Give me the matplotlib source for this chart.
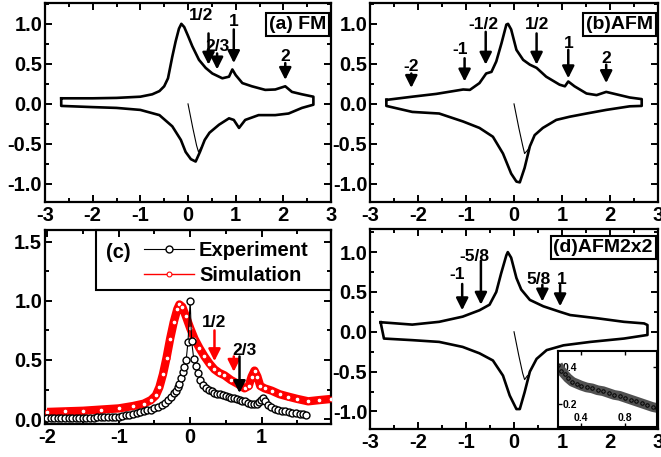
import matplotlib
matplotlib.use('Agg')
import matplotlib.pyplot as plt
from matplotlib.patches import Rectangle
from matplotlib.font_manager import FontProperties
from matplotlib.ticker import MultipleLocator, FormatStrFormatter

plt.rcParams['font.family'] = ['Liberation Sans', 'DejaVu Sans']
plt.rcParams['font.weight'] = 'bold'
plt.rcParams['axes.unicode_minus'] = False

# (a) FM spectrum: upper and lower branch of the loop
a_up_x = [-2.66, -2.3, -2.0, -1.5, -1.0, -0.75, -0.6, -0.5, -0.42, -0.33, -0.26, -0.19, -0.14,
          -0.08, 0.0, 0.09, 0.23, 0.37, 0.51, 0.72, 0.86, 0.93, 1.0, 1.14, 1.34, 1.62, 1.83,
          2.04, 2.18, 2.39, 2.63]
a_up_y = [0.07, 0.07, 0.07, 0.075, 0.09, 0.12, 0.16, 0.22, 0.32, 0.59, 0.78, 0.94, 1.0,
          0.96, 0.85, 0.72, 0.55, 0.45, 0.38, 0.32, 0.34, 0.43, 0.36, 0.26, 0.22, 0.175, 0.18,
          0.22, 0.15, 0.12, 0.09]
a_lo_x = [-2.66, -2.0, -1.5, -1.0, -0.6, -0.33, -0.15, -0.05, 0.06, 0.16, 0.25, 0.35, 0.45,
          0.65, 0.86, 0.96, 1.07, 1.2, 1.48, 1.83, 2.11, 2.39, 2.63]
a_lo_y = [-0.025, -0.04, -0.05, -0.075, -0.14, -0.28, -0.45, -0.6, -0.69, -0.72, -0.6,
          -0.45, -0.36, -0.26, -0.18, -0.2, -0.3, -0.2, -0.14, -0.14, -0.12, -0.05, -0.01]
a_thin_x = [0.0, 0.1, 0.18, 0.22, 0.27]
a_thin_y = [0.0, -0.3, -0.52, -0.6, -0.55]

# (b) AFM spectrum
b_up_x = [-2.66, -2.12, -1.62, -1.06, -0.92, -0.72, -0.58, -0.47, -0.37, -0.26, -0.16, -0.125,
          -0.06, 0.05, 0.19, 0.33, 0.47, 0.67, 0.95, 1.06, 1.13, 1.26, 1.51, 1.72, 1.92, 2.2,
          2.41, 2.66]
b_up_y = [0.05, 0.09, 0.125, 0.18, 0.175, 0.26, 0.38, 0.4, 0.53, 0.76, 0.99, 1.0, 0.93, 0.675,
          0.55, 0.49, 0.45, 0.34, 0.24, 0.22, 0.28, 0.22, 0.13, 0.11, 0.15, 0.11, 0.08, 0.06]
b_lo_x = [-2.66, -2.12, -1.56, -1.06, -0.72, -0.44, -0.23, -0.06, 0.05, 0.12, 0.22, 0.33,
          0.43, 0.6, 0.88, 1.16, 1.51, 1.92, 2.41, 2.66]
b_lo_y = [-0.025, -0.1, -0.12, -0.22, -0.3, -0.41, -0.62, -0.87, -0.97, -0.98, -0.8, -0.53,
          -0.39, -0.3, -0.2, -0.16, -0.12, -0.075, -0.03, -0.025]
b_thin_x = [0.0, 0.1, 0.18, 0.22, 0.28, 0.33]
b_thin_y = [0.0, -0.3, -0.52, -0.62, -0.58, -0.53]

# (c) experiment vs simulation
exp_x = [-2.0, -1.95, -1.9, -1.85, -1.8, -1.75, -1.7, -1.65, -1.6, -1.55, -1.5, -1.45, -1.4,
         -1.35, -1.3, -1.25, -1.2, -1.15, -1.1, -1.05, -1.0, -0.95, -0.9, -0.85, -0.8, -0.75,
         -0.7, -0.65, -0.6, -0.55, -0.5, -0.45, -0.4, -0.35, -0.31, -0.27, -0.23, -0.2, -0.17,
         -0.15, -0.126, -0.1, -0.08, -0.056, -0.03, 0.0, 0.02, 0.05, 0.075, 0.11, 0.14, 0.18,
         0.22, 0.26, 0.3, 0.34, 0.38, 0.42, 0.46, 0.5, 0.54, 0.57, 0.61, 0.65, 0.69, 0.73, 0.77,
         0.81, 0.85, 0.89, 0.93, 0.96, 0.99, 1.02, 1.05, 1.09, 1.13, 1.18, 1.23, 1.28, 1.33,
         1.38, 1.43, 1.48, 1.53, 1.58, 1.62]
exp_y = [0.005, 0.005, 0.006, 0.006, 0.007, 0.007, 0.008, 0.008, 0.009, 0.01, 0.01, 0.011,
         0.012, 0.013, 0.014, 0.015, 0.016, 0.017, 0.018, 0.019, 0.02, 0.025, 0.03, 0.035,
         0.045, 0.05, 0.06, 0.07, 0.075, 0.08, 0.09, 0.1, 0.12, 0.14, 0.16, 0.19, 0.22, 0.24,
         0.27, 0.3, 0.345, 0.4, 0.44, 0.5, 0.655, 1.0, 0.66, 0.51, 0.45, 0.39, 0.33, 0.29, 0.26,
         0.245, 0.235, 0.22, 0.215, 0.21, 0.2, 0.195, 0.185, 0.175, 0.18, 0.17, 0.165, 0.155,
         0.15, 0.14, 0.13, 0.13, 0.13, 0.145, 0.16, 0.175, 0.15, 0.12, 0.1, 0.085, 0.076, 0.07,
         0.066, 0.062, 0.055, 0.05, 0.045, 0.04, 0.034]
sim_x = [-2.0, -1.75, -1.5, -1.25, -1.0, -0.8, -0.65, -0.55, -0.48, -0.43, -0.38, -0.33, -0.28,
         -0.23, -0.18, -0.15, -0.11, -0.06, 0.0, 0.06, 0.13, 0.2, 0.27, 0.34, 0.41, 0.48, 0.57,
         0.66, 0.76, 0.82, 0.86, 0.9, 0.94, 0.98, 1.04, 1.14, 1.25, 1.37, 1.5, 1.65, 1.8, 1.97]
sim_y = [0.06, 0.065, 0.07, 0.08, 0.09, 0.11, 0.13, 0.16, 0.2, 0.27, 0.38, 0.52, 0.68, 0.82,
         0.93, 0.97, 0.95, 0.87, 0.77, 0.68, 0.6, 0.53, 0.47, 0.42, 0.39, 0.37, 0.33, 0.3, 0.26,
         0.28, 0.36, 0.41, 0.36, 0.28, 0.26, 0.24, 0.21, 0.19, 0.17, 0.15, 0.16, 0.17]

# (d) AFM 2x2 spectrum
d_up_x = [-2.78, -2.12, -1.56, -1.07, -0.72, -0.51, -0.37, -0.27, -0.16, -0.13, -0.06, 0.05,
          0.15, 0.33, 0.61, 0.96, 1.17, 1.73, 2.29, 2.71, 2.78]
d_up_y = [0.12, 0.09, 0.125, 0.19, 0.27, 0.34, 0.5, 0.73, 0.96, 1.0, 0.93, 0.675, 0.53, 0.4,
          0.32, 0.25, 0.21, 0.17, 0.125, 0.105, 0.085]
d_lo_x = [-2.71, -2.12, -1.56, -1.07, -0.72, -0.44, -0.23, -0.09, 0.05, 0.12, 0.22, 0.33, 0.47,
          0.68, 1.03, 1.59, 2.29, 2.78]
d_lo_y = [-0.085, -0.105, -0.127, -0.19, -0.27, -0.36, -0.55, -0.8, -0.97, -0.97, -0.76, -0.5,
          -0.34, -0.23, -0.17, -0.127, -0.085, -0.04]
d_thin_x = [0.0, 0.1, 0.18, 0.22, 0.28]
d_thin_y = [0.0, -0.3, -0.52, -0.6, -0.55]

# inset of (d)
ins_x = [0.19, 0.22, 0.25, 0.28, 0.32, 0.36, 0.4, 0.45, 0.5, 0.55, 0.6, 0.65, 0.7, 0.75, 0.8,
         0.85, 0.9, 0.95, 1.0, 1.05, 1.09]
ins_y = [0.41, 0.38, 0.36, 0.34, 0.32, 0.31, 0.3, 0.29, 0.285, 0.275, 0.27, 0.26, 0.25, 0.245,
         0.235, 0.225, 0.215, 0.205, 0.195, 0.185, 0.18]


def style(ax, xlim, ylim):
    ax.set_xlim(*xlim)
    ax.set_ylim(*ylim)
    ax.xaxis.set_major_locator(MultipleLocator(1))
    ax.xaxis.set_minor_locator(MultipleLocator(0.5))
    ax.yaxis.set_major_locator(MultipleLocator(0.5))
    ax.yaxis.set_minor_locator(MultipleLocator(0.25))
    ax.xaxis.set_major_formatter(FormatStrFormatter('%d'))
    ax.yaxis.set_major_formatter(FormatStrFormatter('%.1f'))
    ax.tick_params(which='both', direction='in', top=True, right=True, width=1.4,
                   labelsize=14.5)
    ax.tick_params(which='major', length=5)
    ax.tick_params(which='minor', length=3)
    ax.tick_params(axis='x', pad=3)
    ax.tick_params(axis='y', pad=2)
    for s in ax.spines.values():
        s.set_linewidth(1.6)


def loop(ax, ux, uy, lx, ly, tx, ty):
    xs = ux + lx[::-1] + ux[:1]
    ys = uy + ly[::-1] + uy[:1]
    ax.plot(xs, ys, color='k', lw=1.9)
    ax.plot(tx, ty, color='k', lw=0.8)


def arrow(ax, x, y0, y1, color='k'):
    ax.annotate('', xy=(x, y1), xytext=(x, y0),
                arrowprops=dict(arrowstyle='-|>,head_length=0.6,head_width=0.3', lw=1.8,
                                color=color, shrinkA=0, shrinkB=0, mutation_scale=12))


def tag(ax, s, ytop):
    ax.text(0.982, ytop, s, transform=ax.transAxes, ha='right', va='top', fontsize=14,
            fontweight='bold',
            bbox=dict(boxstyle='square,pad=0.15', fc='white', ec='k', lw=1.5))


fig = plt.figure(figsize=(6.61, 4.57), dpi=100)
ax_a = fig.add_axes([0.0681, 0.558, 0.4327, 0.4354])
ax_b = fig.add_axes([0.5598, 0.558, 0.4357, 0.4354])
ax_c = fig.add_axes([0.0681, 0.0722, 0.4327, 0.4245])
ax_d = fig.add_axes([0.5598, 0.0613, 0.4357, 0.4376])

# (a)
style(ax_a, (-3, 3), (-1.225, 1.26))
loop(ax_a, a_up_x, a_up_y, a_lo_x, a_lo_y, a_thin_x, a_thin_y)
for lab, x, y0, y1, lx, ly in [('1/2', 0.43, 0.88, 0.49, 0.27, 1.1),
                               ('2/3', 0.61, 0.63, 0.43, 0.62, 0.72),
                               ('1', 0.96, 0.93, 0.51, 0.96, 1.03),
                               ('2', 2.04, 0.51, 0.3, 2.04, 0.59)]:
    arrow(ax_a, x, y0, y1)
    ax_a.text(lx, ly, lab, ha='center', va='center', fontsize=12.5)
tag(ax_a, '(a) FM', 0.935)

# (b)
style(ax_b, (-3, 3), (-1.225, 1.26))
loop(ax_b, b_up_x, b_up_y, b_lo_x, b_lo_y, b_thin_x, b_thin_y)
for lab, x, y0, y1, lx, ly in [('-2', -2.14, 0.38, 0.2, -2.14, 0.47),
                               ('-1', -1.03, 0.57, 0.28, -1.12, 0.675),
                               ('-1/2', -0.59, 0.9, 0.49, -0.63, 0.99),
                               ('1/2', 0.47, 0.88, 0.49, 0.47, 0.99),
                               ('1', 1.13, 0.675, 0.32, 1.13, 0.76),
                               ('2', 1.92, 0.49, 0.26, 1.92, 0.57)]:
    arrow(ax_b, x, y0, y1)
    ax_b.text(lx, ly, lab, ha='center', va='center', fontsize=12.5)
tag(ax_b, '(b)AFM', 0.935)

# (c)
style(ax_c, (-2.03, 1.97), (-0.042, 1.6))
ax_c.plot(sim_x, sim_y, color='red', lw=6, solid_capstyle='butt', zorder=2)
ax_c.plot(sim_x, sim_y, color='red', lw=1, marker='o', ms=3.5, mfc='white', mec='red',
          mew=0.8, zorder=3, label='Simulation')
ax_c.plot(exp_x, exp_y, color='k', lw=0.8, marker='o', ms=5, mfc='white', mec='k', mew=1,
          zorder=4, label='Experiment')
h, l = ax_c.get_legend_handles_labels()
leg_font = FontProperties(family='Liberation Sans', weight='bold', size=14.5)
ax_c.legend(h[::-1], l[::-1], loc='upper left', bbox_to_anchor=(0.345, 0.945), frameon=False,
            prop=leg_font, handlelength=2.5, handletextpad=0.25, labelspacing=0.3,
            borderpad=0, borderaxespad=0)
ax_c.add_patch(Rectangle((0.178, 0.69), 0.822, 0.31, transform=ax_c.transAxes, fill=False,
                         ec='k', lw=1.5, zorder=5, clip_on=False))
ax_c.text(0.255, 0.885, '(c)', transform=ax_c.transAxes, ha='center', va='center',
          fontsize=14.5)
arrow(ax_c, 0.34, 0.75, 0.49, color='red')
arrow(ax_c, 0.61, 0.53, 0.4, color='red')
arrow(ax_c, 0.69, 0.53, 0.22, color='k')
ax_c.text(0.34, 0.82, '1/2', ha='center', va='center', fontsize=12.5)
ax_c.text(0.76, 0.58, '2/3', ha='center', va='center', fontsize=12.5)

# (d)
style(ax_d, (-3, 3), (-1.22, 1.29))
loop(ax_d, d_up_x, d_up_y, d_lo_x, d_lo_y, d_thin_x, d_thin_y)
for lab, x, y0, y1, lx, ly in [('-1', -1.08, 0.6, 0.27, -1.18, 0.72),
                               ('-5/8', -0.69, 0.89, 0.34, -0.82, 0.95),
                               ('5/8', 0.59, 0.59, 0.38, 0.52, 0.66),
                               ('1', 0.96, 0.59, 0.32, 0.99, 0.66)]:
    arrow(ax_d, x, y0, y1)
    ax_d.text(lx, ly, lab, ha='center', va='center', fontsize=12.5)
tag(ax_d, '(d)AFM2x2', 0.95)

# inset
ax_i = fig.add_axes([0.8442, 0.0656, 0.1498, 0.1663])
ax_i.plot(ins_x, ins_y, color='#505050', lw=7, solid_capstyle='butt')
ax_i.plot(ins_x, ins_y, color='k', lw=0, marker='o', ms=2.5, mfc='none', mec='k', mew=0.7)
ax_i.set_xlim(0.19, 1.09)
ax_i.set_ylim(0.078, 0.485)
ax_i.set_xticks([0.4, 0.8])
ax_i.set_yticks([0.2, 0.4])
ax_i.tick_params(direction='in', length=3, width=1, labelsize=7.5, top=True, right=True)
ax_i.tick_params(axis='x', pad=-10)
ax_i.tick_params(axis='y', pad=-3)
for t in ax_i.get_yticklabels():
    t.set_ha('left')
for s in ax_i.spines.values():
    s.set_linewidth(1.5)

fig.savefig('out.png', dpi=100)
